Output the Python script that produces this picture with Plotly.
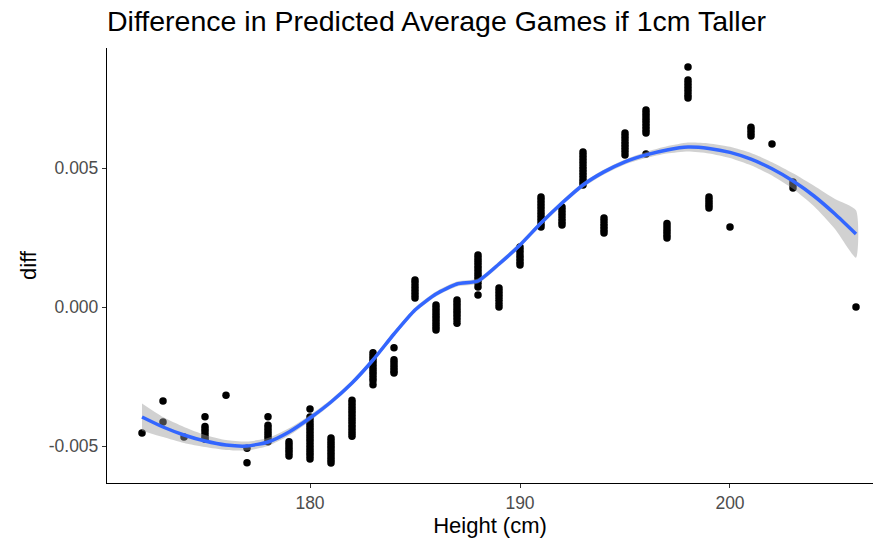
import plotly.graph_objects as go

# Observed differences by player height (cm)
height = (
    [172]
    + [173] * 2
    + [174]
    + [175] * 7
    + [176]
    + [177] * 2
    + [178] * 8
    + [179] * 6
    + [180] * 17
    + [181] * 10
    + [182] * 14
    + [183] * 12
    + [184] * 7
    + [185] * 7
    + [186] * 10
    + [187] * 9
    + [188] * 13
    + [189] * 7
    + [190] * 7
    + [191] * 11
    + [192] * 7
    + [193] * 12
    + [194] * 6
    + [195] * 8
    + [196] * 10
    + [197] * 6
    + [198] * 8
    + [199] * 5
    + [200]
    + [201] * 4
    + [202]
    + [203] * 3
    + [206]
)

diff = [
    -0.00453,
    -0.00338, -0.00414,
    -0.00468,
    -0.00395, -0.00430, -0.00440, -0.00450, -0.00460, -0.00470, -0.00476,
    -0.00317,
    -0.00508, -0.00560,
    -0.00395, -0.00425, -0.00435, -0.00445, -0.00455, -0.00465, -0.00475, -0.00485,
    -0.00485, -0.00495, -0.00505, -0.00515, -0.00525, -0.00536,
    -0.00367, -0.00396, -0.00406, -0.00416, -0.00426, -0.00436, -0.00446, -0.00456,
    -0.00466, -0.00476, -0.00486, -0.00496, -0.00506, -0.00516, -0.00526, -0.00536, -0.00547,
    -0.00471, -0.00481, -0.00491, -0.00501, -0.00511, -0.00521, -0.00531, -0.00541, -0.00551, -0.00561,
    -0.00335, -0.00345, -0.00355, -0.00365, -0.00375, -0.00385, -0.00395, -0.00405,
    -0.00415, -0.00425, -0.00435, -0.00445, -0.00455, -0.00465,
    -0.00165, -0.00175, -0.00185, -0.00195, -0.00205, -0.00215, -0.00225, -0.00235,
    -0.00245, -0.00255, -0.00265, -0.00280,
    -0.00147, -0.00190, -0.00200, -0.00210, -0.00220, -0.00230, -0.00237,
    0.00097, 0.00087, 0.00076, 0.00065, 0.00054, 0.00043, 0.00032,
    0.00007, -0.00003, -0.00013, -0.00023, -0.00033, -0.00043, -0.00053, -0.00063, -0.00073, -0.00083,
    0.00025, 0.00015, 0.00005, -0.00005, -0.00015, -0.00025, -0.00035, -0.00046, -0.00058,
    0.00187, 0.00177, 0.00167, 0.00157, 0.00147, 0.00137, 0.00127, 0.00117, 0.00107,
    0.00097, 0.00085, 0.00072, 0.00043,
    0.00068, 0.00058, 0.00047, 0.00036, 0.00024, 0.00012, 0.00000,
    0.00216, 0.00205, 0.00194, 0.00183, 0.00172, 0.00161, 0.00151,
    0.00396, 0.00386, 0.00375, 0.00364, 0.00353, 0.00342, 0.00331, 0.00320, 0.00309, 0.00298, 0.00288,
    0.00360, 0.00349, 0.00338, 0.00327, 0.00316, 0.00305, 0.00295,
    0.00558, 0.00547, 0.00536, 0.00525, 0.00514, 0.00503, 0.00492, 0.00481, 0.00470, 0.00459, 0.00449, 0.00439,
    0.00320, 0.00309, 0.00298, 0.00287, 0.00276, 0.00266,
    0.00626, 0.00615, 0.00604, 0.00593, 0.00582, 0.00571, 0.00559, 0.00547,
    0.00709, 0.00699, 0.00689, 0.00678, 0.00668, 0.00657, 0.00647, 0.00636, 0.00626, 0.00550,
    0.00300, 0.00290, 0.00279, 0.00269, 0.00258, 0.00248,
    0.00863, 0.00817, 0.00806, 0.00795, 0.00784, 0.00773, 0.00762, 0.00752,
    0.00396, 0.00386, 0.00376, 0.00366, 0.00356,
    0.00288,
    0.00647, 0.00637, 0.00626, 0.00615,
    0.00586,
    0.00450, 0.00440, 0.00428,
    0.00000,
]

# Smoothed trend and its standard-error half-width
fit_height = [172, 173, 174, 175, 176, 177, 178, 179, 180, 181, 182, 183, 184, 185, 186, 187, 188,
              189, 190, 191, 192, 193, 194, 195, 196, 197, 198, 199, 200, 201, 202, 203, 204, 205, 206]
fit_diff = [-0.003957, -0.004317, -0.004604, -0.004820, -0.004964, -0.005000, -0.004856, -0.004496,
            -0.003993, -0.003417, -0.002734, -0.001906, -0.000971, -0.000108, 0.000468, 0.000827,
            0.000935, 0.001547, 0.002230, 0.003020, 0.003740, 0.004390, 0.004860, 0.005220,
            0.005470, 0.005650, 0.005755, 0.005705, 0.005561, 0.005317, 0.004971, 0.004532,
            0.003993, 0.003345, 0.002626]
fit_se = [0.00049, 0.00036, 0.00029, 0.00022, 0.00018, 0.00016, 0.00014, 0.00013, 0.00011,
          0.00009, 0.00009, 0.00009, 0.00009, 0.00009, 0.00009, 0.00009, 0.00009, 0.00009,
          0.00009, 0.00009, 0.00009, 0.00009, 0.00009, 0.00009, 0.00011, 0.00013, 0.00016,
          0.00018, 0.00020, 0.00022, 0.00024, 0.00028, 0.00037, 0.00054, 0.00085]

upper = [m + s for m, s in zip(fit_diff, fit_se)]
lower = [m - s for m, s in zip(fit_diff, fit_se)]

x_ticks = [180, 190, 200]
y_ticks = [-0.005, 0.0, 0.005]
y_tick_text = ["-0.005", "0.000", "0.005"]

fig = go.Figure()

fig.add_trace(go.Scatter(
    x=height, y=diff, mode="markers",
    marker=dict(color="black", size=7.5, line=dict(width=0)),
    hoverinfo="x+y", showlegend=False,
))

fig.add_trace(go.Scatter(
    x=fit_height + fit_height[::-1], y=upper + lower[::-1],
    fill="toself", fillcolor="rgba(153,153,153,0.45)",
    line=dict(width=0, shape="spline", smoothing=0.6), mode="lines",
    hoverinfo="skip", showlegend=False,
))

fig.add_trace(go.Scatter(
    x=fit_height, y=fit_diff, mode="lines",
    line=dict(color="#3366FF", width=3.5, shape="spline", smoothing=0.6),
    hoverinfo="x+y", showlegend=False,
))

fig.update_layout(
    width=880, height=542,
    margin=dict(l=107, r=7, t=48, b=59),
    paper_bgcolor="white", plot_bgcolor="white",
    font=dict(family="Liberation Sans, Arial, sans-serif", color="black"),
    title=dict(
        text="Difference in Predicted Average Games if 1cm Taller",
        x=0, xref="paper", xanchor="left",
        y=0.962, yref="container", yanchor="middle",
        font=dict(size=28.5, color="black"),
    ),
    xaxis=dict(
        range=[170.333, 206.81],
        tickvals=x_ticks,
        showgrid=False, zeroline=False,
        showline=True, linecolor="black", linewidth=1.3,
        ticks="outside", ticklen=4, tickwidth=1, tickcolor="#333333",
        tickfont=dict(size=17.5, color="#4d4d4d"),
        title=dict(text="Height (cm)", font=dict(size=22, color="black"), standoff=4),
    ),
    yaxis=dict(
        range=[-0.006331, 0.009317],
        tickvals=y_ticks, ticktext=y_tick_text,
        showgrid=False, zeroline=False,
        showline=True, linecolor="black", linewidth=1.3,
        ticks="outside", ticklen=4, tickwidth=1, tickcolor="#333333",
        tickfont=dict(size=17.5, color="#4d4d4d"),
        title=dict(text="diff", font=dict(size=22, color="black"), standoff=6),
    ),
)

fig.write_html("out.html")
